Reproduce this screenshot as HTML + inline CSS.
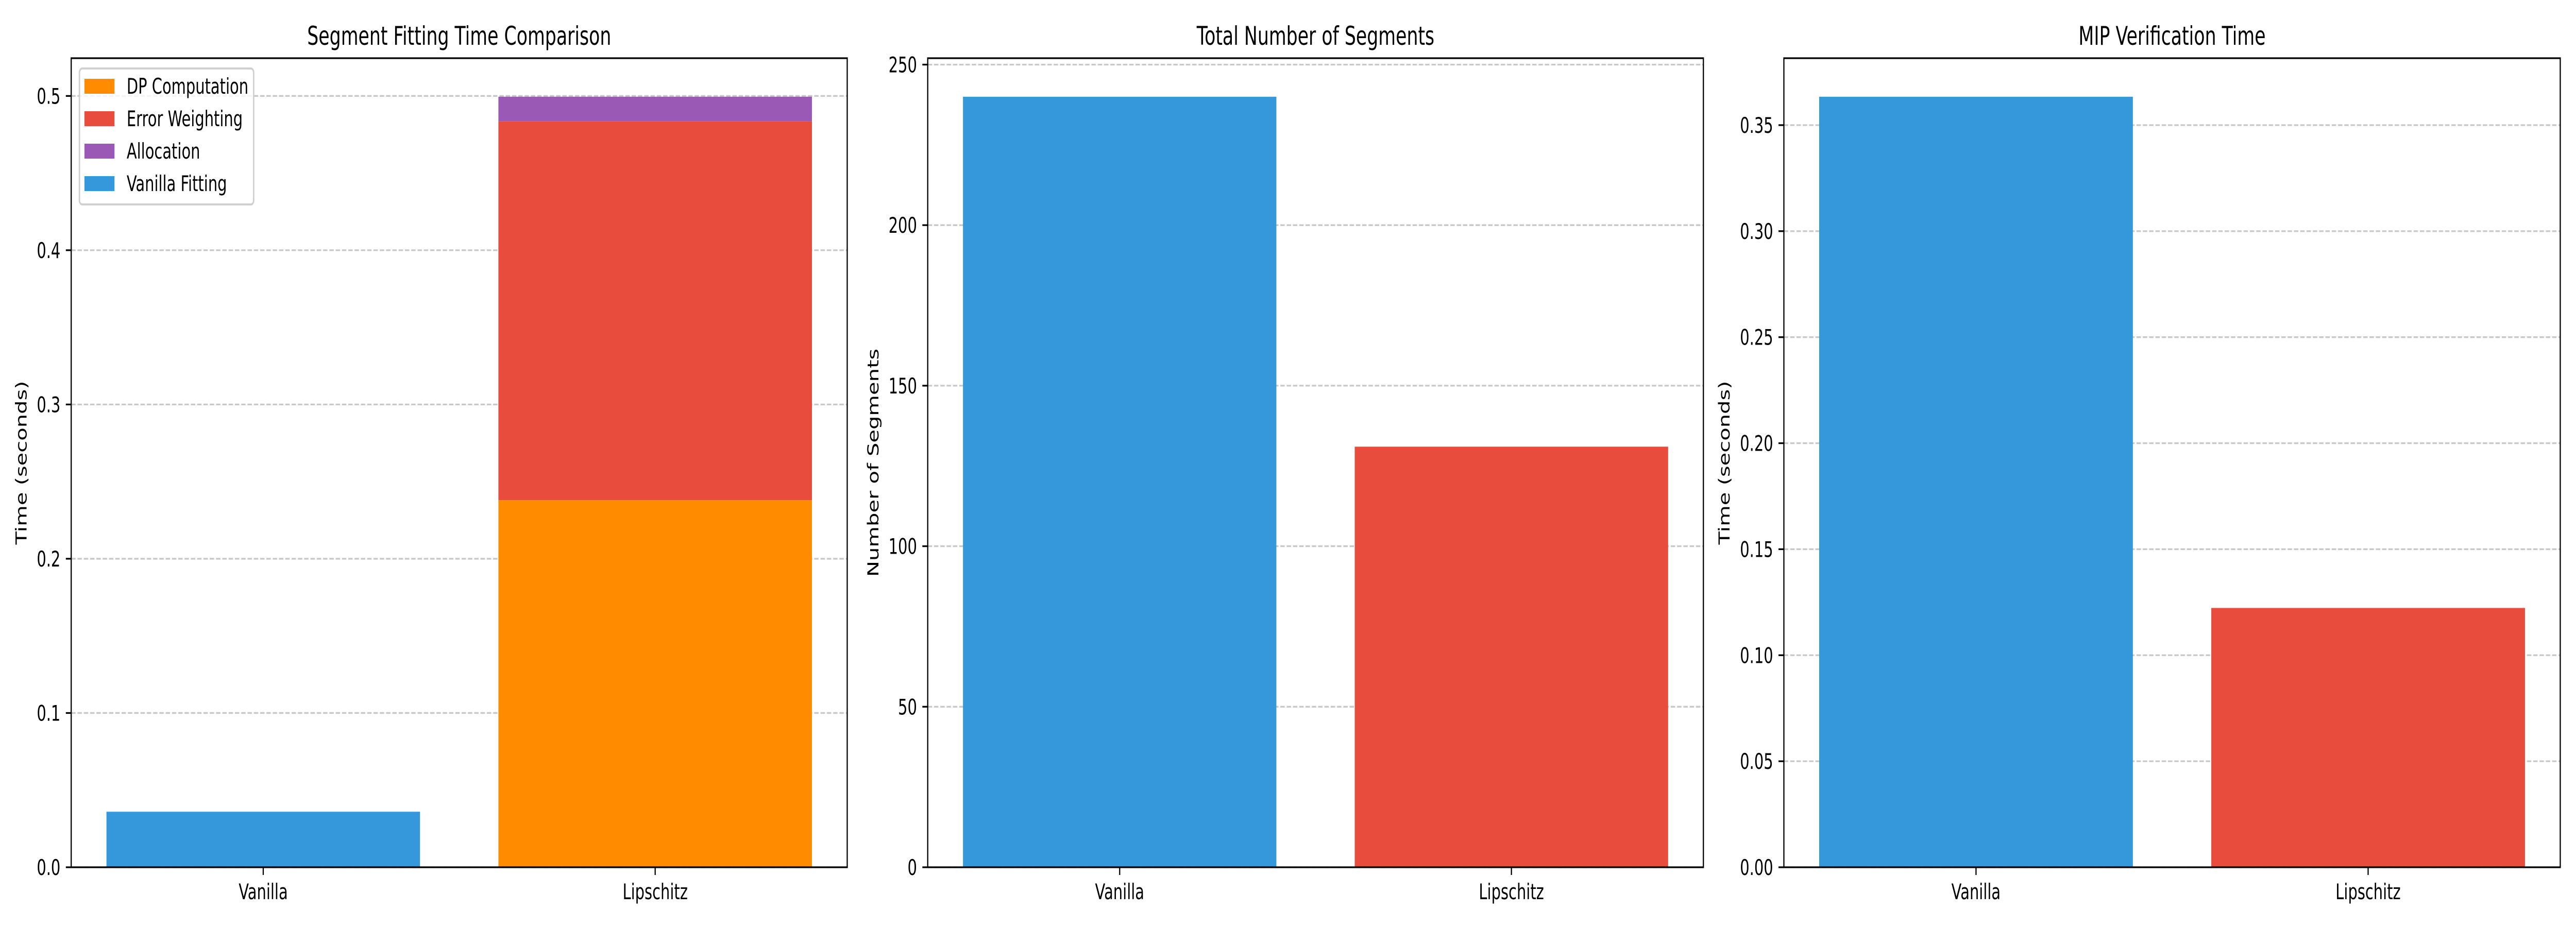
<!DOCTYPE html>
<html><head><meta charset="utf-8">
<style>
html,body{margin:0;padding:0;background:#fff;width:100%;height:100%;overflow:hidden;}
svg{display:block;width:100vw;height:100vh;font-family:"DejaVu Sans","Liberation Sans",sans-serif;}
</style></head>
<body>
<svg id="fig" viewBox="0 0 7200 1800" preserveAspectRatio="none" xmlns="http://www.w3.org/2000/svg"></svg>
<script>
const categories = ["Vanilla", "Lipschitz"];
// Panel 1: stacked fitting time
const vanillaFitting = [0.036, 0];
const dpComputation = [0, 0.238];
const errorWeighting = [0, 0.2455];
const allocation = [0, 0.016];
const fitTicks = [0.0, 0.1, 0.2, 0.3, 0.4, 0.5];
const fitTickLabels = ["0.0", "0.1", "0.2", "0.3", "0.4", "0.5"];
// Panel 2: segment counts
const segmentCounts = [240, 131];
const segTicks = [0, 50, 100, 150, 200, 250];
const segTickLabels = ["0", "50", "100", "150", "200", "250"];
// Panel 3: MIP verification time
const mipTimes = [0.3634, 0.1223];
const mipTicks = [0, 0.05, 0.10, 0.15, 0.20, 0.25, 0.30, 0.35];
const mipTickLabels = ["0.00", "0.05", "0.10", "0.15", "0.20", "0.25", "0.30", "0.35"];

const NS = "http://www.w3.org/2000/svg";
const fig = document.getElementById('fig');
const BLUE = "#3498db", RED = "#e74c3c", PURPLE = "#9b59b6", ORANGE = "#ff8c00";
const TOP = 113, BOT = 1684;

function mk(tag, attrs, parent) {
  const e = document.createElementNS(NS, tag);
  for (const k in attrs) e.setAttribute(k, attrs[k]);
  (parent || fig).appendChild(e);
  return e;
}

function panel(name, x0, x1, ymax, ticks, tickLabels) {
  const g = mk('g', {});
  
  
  const xs = v => x0 + (v + 0.49) / 1.98 * (x1 - x0);
  const ys = v => BOT - v / ymax * (BOT - TOP);
  ticks.forEach((t, i) => {
    const y = ys(t);
    const gl = mk('line', {x1: x0, x2: x1, y1: y, y2: y, stroke: "#c8c8c8", "stroke-width": 3.3, "stroke-dasharray": "12.3 5.3"}, g);
    
    
    const tk = mk('line', {x1: x0 - 15, x2: x0, y1: y, y2: y, stroke: "#000", "stroke-width": 3.3}, g);
    
    
    const tl = mk('text', {x: x0 - 30, y: y + 15, "text-anchor": "end", "font-size": 41.7, fill: "#000"}, g);
    tl.textContent = tickLabels[i];
    
    
  });
  return {g, xs, ys};
}

function bar(p, i, bottom, value, color, name) {
  const x = p.xs(i - 0.4), w = p.xs(i + 0.4) - x;
  const y = p.ys(bottom + value), h = p.ys(bottom) - y;
  const r = mk('rect', {x: x, y: y, width: w, height: Math.max(0, h), fill: color}, p.g);
  
  
}

function finish(p, x0, x1, title, ylabel, ylabelX) {
  categories.forEach((c, i) => {
    const x = p.xs(i);
    const tk = mk('line', {x1: x, x2: x, y1: BOT, y2: BOT + 15, stroke: "#000", "stroke-width": 3.3}, p.g);
    
    
    const tl = mk('text', {x: x, y: 1746, "text-anchor": "middle", "font-size": 41.7, fill: "#000"}, p.g);
    tl.textContent = c;
    
    
  });
  const fr = mk('rect', {x: x0, y: TOP, width: x1 - x0, height: BOT - TOP, fill: "none", stroke: "#000", "stroke-width": 3.3}, p.g);
  
  
  const t = mk('text', {x: (x0 + x1) / 2, y: 87, "text-anchor": "middle", "font-size": 50, fill: "#000"}, p.g);
  t.textContent = title;
  
  
  const cy = (TOP + BOT) / 2;
  const yl = mk('text', {x: ylabelX, y: cy, "text-anchor": "middle", "dominant-baseline": "central", "font-size": 41.7, fill: "#000", transform: `rotate(-90 ${ylabelX} ${cy})`}, p.g);
  yl.textContent = ylabel;
  
  
}

// Panel 1
const totals = categories.map((c, i) => vanillaFitting[i] + dpComputation[i] + errorWeighting[i] + allocation[i]);
const p1 = panel('fitting-time-panel', 199, 2368, Math.max(...totals) * 1.05, fitTicks, fitTickLabels);
categories.forEach((c, i) => {
  bar(p1, i, 0, vanillaFitting[i], BLUE, 'bar-vanilla-fitting');
  bar(p1, i, 0, dpComputation[i], ORANGE, 'bar-dp-computation');
  bar(p1, i, dpComputation[i], errorWeighting[i], RED, 'bar-error-weighting');
  bar(p1, i, dpComputation[i] + errorWeighting[i], allocation[i], PURPLE, 'bar-allocation');
});
finish(p1, 199, 2368, "Segment Fitting Time Comparison", "Time (seconds)", 61);
const lg = mk('g', {}, p1.g);


const lb = mk('rect', {x: 222, y: 133, width: 487, height: 264, rx: 8, fill: "#fff", "fill-opacity": 0.8, stroke: "#d0d0d0", "stroke-width": 4}, lg);


[["DP Computation", ORANGE], ["Error Weighting", RED], ["Allocation", PURPLE], ["Vanilla Fitting", BLUE]].forEach((e, k) => {
  const y = 153 + k * 63;
  const s = mk('rect', {x: 236, y: y, width: 84, height: 29, fill: e[1]}, lg);
  
  
  const t = mk('text', {x: 354, y: y + 29, "font-size": 41.7, fill: "#000"}, lg);
  t.textContent = e[0];
  
  
});

// Panel 2
const p2 = panel('segments-panel', 2593, 4761, Math.max(...segmentCounts) * 1.05, segTicks, segTickLabels);
segmentCounts.forEach((v, i) => bar(p2, i, 0, v, i === 0 ? BLUE : RED, 'bar-segments-' + categories[i].toLowerCase()));
finish(p2, 2593, 4761, "Total Number of Segments", "Number of Segments", 2442);

// Panel 3
const p3 = panel('mip-time-panel', 4986, 7156, Math.max(...mipTimes) * 1.05, mipTicks, mipTickLabels);
mipTimes.forEach((v, i) => bar(p3, i, 0, v, i === 0 ? BLUE : RED, 'bar-mip-' + categories[i].toLowerCase()));
finish(p3, 4986, 7156, "MIP Verification Time", "Time (seconds)", 4821);
</script>
</body></html>
